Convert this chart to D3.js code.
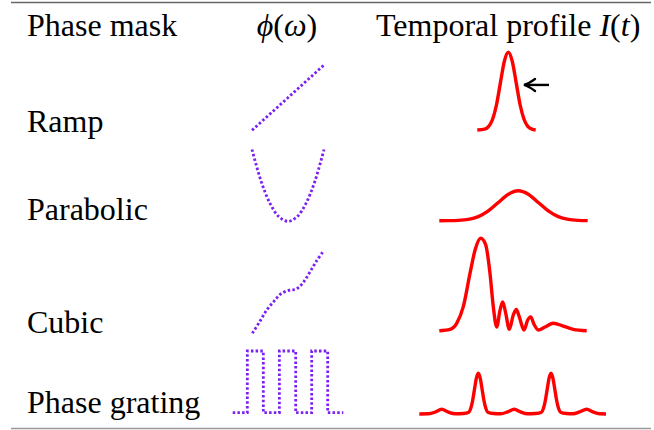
<!DOCTYPE html>
<html><head><meta charset="utf-8">
<script src="https://cdn.jsdelivr.net/npm/d3@7"></script>
<style>body{margin:0;background:#fff}svg{display:block}text{font-family:"Liberation Serif","Times New Roman",serif;fill:#000}</style>
</head><body>
<svg id="c" width="654" height="430"></svg>
<script>
// ---- data ----
const headers = ["Phase mask", "ϕ(ω)", "Temporal profile I(t)"];
const rowLabels = ["Ramp", "Parabolic", "Cubic", "Phase grating"];

// phase masks: [omega, phi (normalized)]
const phaseRamp = [[-1,0],[1,1]];
const phaseParabolic = [[-1,1],[-0.75,0.5625],[-0.5,0.25],[-0.25,0.0625],[0,0],[0.25,0.0625],[0.5,0.25],[0.75,0.5625],[1,1]];
const phaseCubic = [[-0.99,0],[-0.78,0.148],[-0.59,0.288],[-0.39,0.395],[-0.2,0.486],[0.02,0.531],[0.17,0.54],[0.29,0.565],[0.44,0.638],[0.61,0.757],[0.78,0.884],[0.96,1]];
const phaseGrating = [[-1.536,0],[-1.13,0],[-1.13,1],[-0.686,1],[-0.686,0],[-0.24,0],[-0.24,1],[0.214,1],[0.214,0],[0.658,0],[0.658,1],[1.103,1],[1.103,0],[1.536,0]];

// temporal profiles: [t, intensity (normalized)]
const timeRamp = [[-36.2,0],[-28.9,0.011],[-25,0.044],[-21,0.135],[-17,0.325],[-13.1,0.607],[-9.2,0.882],[-5.2,1],[-1.2,0.882],[2.7,0.607],[6.6,0.325],[10.6,0.135],[14.5,0.044],[18.5,0.011],[22.2,0]];
const timeParabolic = [[-74.2,0],[-65.2,0.002],[-55.2,0.011],[-45.2,0.044],[-35.2,0.135],[-25.2,0.325],[-15.2,0.607],[-5.2,0.882],[4.8,1],[14.8,0.882],[24.8,0.607],[34.8,0.325],[44.8,0.135],[54.8,0.044],[64.8,0.011],[74.2,0.002]];
const timeCubic = [[-74.2,0],[-63.5,0.015],[-56.8,0.08],[-50.2,0.26],[-43.5,0.62],[-38.5,0.87],[-32.8,1.0],[-27.8,0.93],[-23.5,0.62],[-20.2,0.26],[-16.8,0.04],[-13.5,0.22],[-10.8,0.31],[-7.8,0.19],[-4.2,0.015],[-0.2,0.17],[2.8,0.23],[5.8,0.15],[10.5,0.008],[14.2,0.116],[17.2,0.15],[20.5,0.07],[24.8,0.008],[31.5,0.04],[39.8,0.08],[49.8,0.05],[59.8,0.015],[73.2,0]];
const timeGrating = [[-94.2,0],[-85,0.005],[-78,0.05],[-71.8,0.115],[-65.5,0.05],[-58,0.005],[-50,0.012],[-44.7,0.044],[-42.8,0.135],[-40.9,0.325],[-39,0.607],[-37.1,0.88],[-35.2,1],[-33.3,0.88],[-31.4,0.607],[-29.5,0.325],[-27.6,0.135],[-25.7,0.044],[-20,0.012],[-13,0.005],[-6,0.05],[0.8,0.115],[7,0.05],[14,0.005],[22,0.012],[28,0.044],[29.9,0.135],[31.8,0.325],[33.7,0.607],[35.6,0.88],[37.5,1],[39.4,0.88],[41.3,0.607],[43.2,0.325],[45.1,0.135],[47,0.044],[53,0.012],[59.5,0.005],[66,0.05],[73.2,0.115],[79.5,0.05],[86,0.005],[92.5,0]];

const phaseSeries = [phaseRamp, phaseParabolic, phaseCubic, phaseGrating];
const timeSeries = [timeRamp, timeParabolic, timeCubic, timeGrating];

// ---- layout ----
const svg = d3.select("#c");
const FS = 32;
const phaseY = [[130.3,65],[221.3,149.5],[333.3,252.3],[412.7,351]];
const timeY = [[130,52.3],[220.7,190.7],[330.7,238.3],[414,373.3]];
const labelBase = [132, 220, 333, 413];

const xPhase = d3.scaleLinear().domain([-1,1]).range([252,324]);
const xTime = d3.scaleLinear().domain([-75,75]).range([438.5,588.5]);

// rules
svg.append("line").attr("x1",11).attr("x2",651).attr("y1",2.5).attr("y2",2.5).attr("stroke","#666").attr("stroke-width",1.3);
svg.append("line").attr("x1",11).attr("x2",651).attr("y1",428.5).attr("y2",428.5).attr("stroke","#999").attr("stroke-width",1.3);

// headers
svg.append("text").attr("x",27).attr("y",36).attr("font-size",FS).text(headers[0]);
const ph = svg.append("text").attr("x",287).attr("y",36).attr("font-size",FS).attr("text-anchor","middle");
ph.append("tspan").attr("font-style","italic").text("ϕ");
ph.append("tspan").text("(");
ph.append("tspan").attr("font-style","italic").text("ω");
ph.append("tspan").text(")");
const tp = svg.append("text").attr("x",376).attr("y",36).attr("font-size",FS);
tp.append("tspan").text("Temporal profile ");
tp.append("tspan").attr("font-style","italic").text("I");
tp.append("tspan").text("(");
tp.append("tspan").attr("font-style","italic").text("t");
tp.append("tspan").text(")");

rowLabels.forEach((l,i)=>{
  svg.append("text").attr("x",27).attr("y",labelBase[i]).attr("font-size",FS).text(l);
});

// phase masks
phaseSeries.forEach((d,i)=>{
  const y = d3.scaleLinear().domain([0,1]).range(phaseY[i]);
  const line = d3.line().x(p=>xPhase(p[0])).y(p=>y(p[1]))
    .curve(i===1||i===2 ? d3.curveCatmullRom : d3.curveLinear);
  svg.append("path").attr("d",line(d)).attr("fill","none")
    .attr("stroke","#7b1ff2").attr("stroke-width",2.8)
    .attr("stroke-dasharray","2.5,2.2");
});

// temporal profiles
timeSeries.forEach((d,i)=>{
  const y = d3.scaleLinear().domain([0,1]).range(timeY[i]);
  const line = d3.line().x(p=>xTime(p[0])).y(p=>y(p[1])).curve(d3.curveMonotoneX);
  svg.append("path").attr("d",line(d)).attr("fill","none")
    .attr("stroke","#ff0000").attr("stroke-width",3.4)
    .attr("stroke-linejoin","round").attr("stroke-linecap","butt");
});

// arrow on ramp profile
const yR = d3.scaleLinear().domain([0,1]).range(timeY[0]);
const tip = [xTime(10.5), yR(0.58)], tail = [xTime(35.5), yR(0.58)];
svg.append("line").attr("x1",tip[0]+1).attr("y1",tip[1]).attr("x2",tail[0]).attr("y2",tail[1])
  .attr("stroke","#000").attr("stroke-width",2.4);
svg.append("path")
  .attr("d",`M${tip[0]+11},${tip[1]-6} Q${tip[0]+4},${tip[1]-1} ${tip[0]},${tip[1]} Q${tip[0]+4},${tip[1]+1} ${tip[0]+11},${tip[1]+6}`)
  .attr("fill","none").attr("stroke","#000").attr("stroke-width",2.4).attr("stroke-linecap","round");
</script>
</body></html>
